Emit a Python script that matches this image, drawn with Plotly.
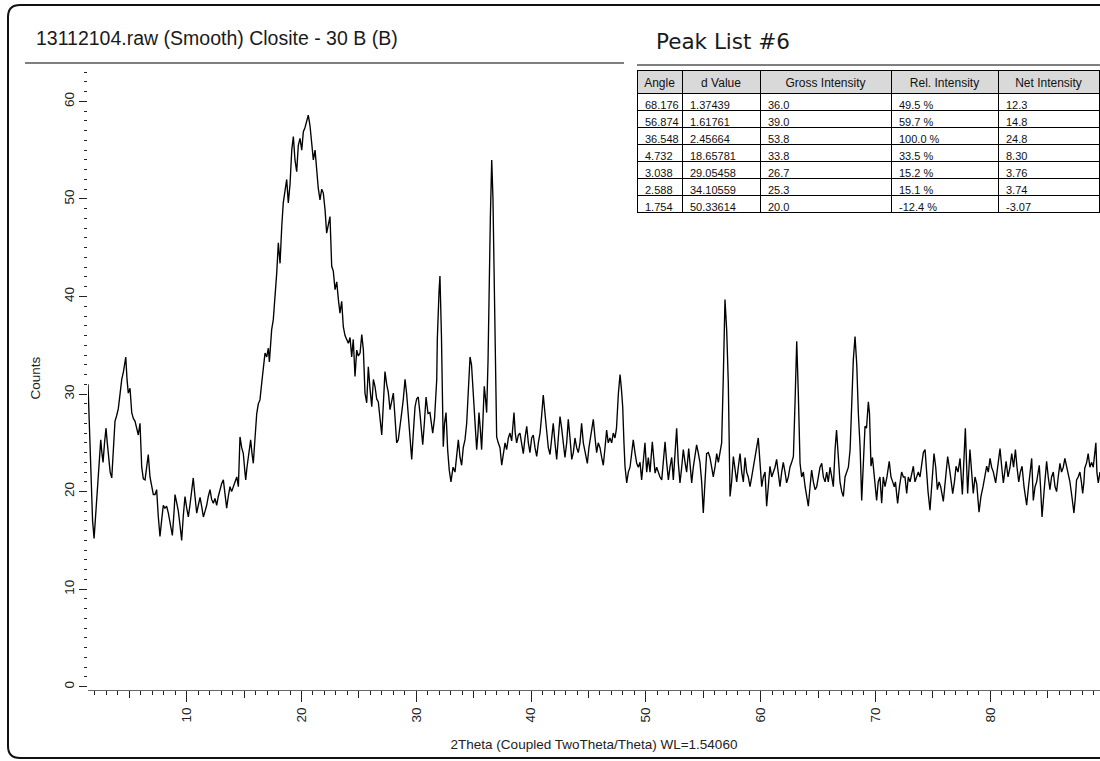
import plotly.graph_objects as go

# ---------------- data ----------------
two_theta = [
 1.40, 1.52, 1.66, 1.80, 1.93, 2.06, 2.19, 2.35, 2.51, 2.61, 2.71, 2.84, 2.97, 3.08, 3.19, 3.33,
 3.47, 3.62, 3.75, 3.90, 4.04, 4.19, 4.34, 4.49, 4.60, 4.69, 4.80, 4.91, 5.06, 5.21, 5.35, 5.50,
 5.64, 5.78, 5.93, 6.08, 6.22, 6.37, 6.51, 6.65, 6.80, 6.95, 7.09, 7.24, 7.38, 7.52, 7.67, 7.81,
 7.96, 8.10, 8.25, 8.40, 8.55, 8.75, 8.90, 8.98, 9.12, 9.27, 9.42, 9.56, 9.70, 9.85, 10.00, 10.14,
 10.28, 10.43, 10.57, 10.72, 10.87, 11.01, 11.16, 11.30, 11.45, 11.60, 11.74, 11.88, 12.03, 12.17,
 12.32, 12.46, 12.61, 12.75, 12.90, 13.04, 13.19, 13.34, 13.48, 13.62, 13.77, 13.91, 14.06, 14.21,
 14.36, 14.50, 14.64, 14.79, 14.93, 15.07, 15.14, 15.25, 15.37, 15.47, 15.57, 15.68, 15.80, 15.95,
 16.10, 16.24, 16.38, 16.53, 16.67, 16.82, 16.97, 17.11, 17.20, 17.30, 17.40, 17.54, 17.69, 17.84,
 17.98, 18.13, 18.28, 18.41, 18.56, 18.71, 18.85, 19.00, 19.15, 19.29, 19.43, 19.58, 19.72, 19.87,
 20.02, 20.16, 20.30, 20.45, 20.59, 20.74, 20.89, 21.03, 21.18, 21.32, 21.46, 21.61, 21.76, 21.90,
 22.05, 22.19, 22.33, 22.48, 22.63, 22.77, 22.92, 23.07, 23.21, 23.35, 23.50, 23.64, 23.79, 23.94,
 24.08, 24.23, 24.37, 24.51, 24.66, 24.81, 24.95, 25.10, 25.25, 25.39, 25.53, 25.68, 25.82, 25.97,
 26.12, 26.26, 26.40, 26.55, 26.69, 26.84, 26.99, 27.13, 27.27, 27.42, 27.56, 27.71, 27.86, 28.00,
 28.15, 28.29, 28.43, 28.58, 28.73, 28.87, 29.02, 29.16, 29.30, 29.45, 29.60, 29.74, 29.89, 30.03,
 30.17, 30.32, 30.47, 30.56, 30.70, 30.85, 31.02, 31.19, 31.43, 31.59, 31.78, 31.83, 31.98, 32.06,
 32.19, 32.35, 32.46, 32.59, 32.73, 32.87, 33.02, 33.20, 33.37, 33.52, 33.66, 33.81, 33.95, 34.09,
 34.24, 34.39, 34.53, 34.68, 34.81, 34.97, 35.11, 35.26, 35.37, 35.46, 35.57, 35.69, 35.81, 35.92,
 36.03, 36.13, 36.25, 36.33, 36.45, 36.57, 36.68, 36.77, 36.85, 37.00, 37.14, 37.29, 37.44, 37.58,
 37.73, 37.87, 38.02, 38.16, 38.31, 38.51, 38.62, 38.74, 38.89, 39.03, 39.18, 39.32, 39.47, 39.62,
 39.76, 39.90, 40.05, 40.19, 40.34, 40.49, 40.63, 40.78, 40.92, 41.06, 41.21, 41.36, 41.50, 41.65,
 41.79, 41.93, 42.08, 42.23, 42.37, 42.52, 42.66, 42.81, 42.95, 43.10, 43.24, 43.39, 43.54, 43.68,
 43.82, 43.97, 44.11, 44.26, 44.40, 44.55, 44.70, 44.90, 45.04, 45.22, 45.42, 45.57, 45.71, 45.85,
 46.00, 46.15, 46.29, 46.44, 46.58, 46.72, 46.87, 47.02, 47.16, 47.31, 47.44, 47.60, 47.75, 47.87,
 47.98, 48.09, 48.18, 48.33, 48.47, 48.62, 48.76, 48.90, 49.05, 49.20, 49.34, 49.49, 49.63, 49.77,
 49.92, 50.07, 50.21, 50.36, 50.56, 50.68, 50.80, 50.94, 51.08, 51.23, 51.38, 51.52, 51.67, 51.81,
 51.96, 52.10, 52.25, 52.39, 52.54, 52.68, 52.82, 52.97, 53.12, 53.26, 53.41, 53.55, 53.73, 53.84,
 53.99, 54.13, 54.28, 54.42, 54.56, 54.71, 54.86, 55.00, 55.15, 55.29, 55.44, 55.58, 55.73, 55.87,
 56.02, 56.17, 56.31, 56.45, 56.60, 56.74, 56.89, 57.04, 57.18, 57.33, 57.47, 57.62, 57.76, 57.91,
 58.05, 58.20, 58.35, 58.49, 58.64, 58.78, 58.92, 59.07, 59.22, 59.36, 59.51, 59.65, 59.79, 59.94,
 60.09, 60.23, 60.38, 60.52, 60.67, 60.81, 60.96, 61.10, 61.25, 61.39, 61.54, 61.68, 61.83, 61.97,
 62.12, 62.26, 62.41, 62.55, 62.70, 62.85, 62.99, 63.14, 63.28, 63.43, 63.57, 63.72, 63.87, 64.01,
 64.15, 64.30, 64.44, 64.59, 64.74, 64.88, 65.02, 65.17, 65.32, 65.46, 65.61, 65.75, 65.89, 66.04,
 66.19, 66.33, 66.48, 66.61, 66.74, 66.91, 67.06, 67.20, 67.35, 67.49, 67.64, 67.79, 67.93, 68.07,
 68.22, 68.37, 68.51, 68.66, 68.80, 68.95, 69.09, 69.22, 69.38, 69.48, 69.61, 69.74, 69.87, 70.10,
 70.24, 70.39, 70.54, 70.68, 70.83, 71.00, 71.20, 71.35, 71.50, 71.64, 71.74, 71.93, 72.09, 72.28,
 72.43, 72.57, 72.72, 72.86, 73.01, 73.15, 73.30, 73.44, 73.59, 73.73, 73.88, 74.03, 74.17, 74.32,
 74.45, 74.58, 74.75, 74.93, 75.10, 75.25, 75.39, 75.54, 75.68, 75.91, 76.10, 76.29, 76.49, 76.73,
 76.88, 77.02, 77.19, 77.37, 77.57, 77.72, 77.83, 77.93, 78.03, 78.23, 78.38, 78.52, 78.67, 78.82,
 79.02, 79.19, 79.37, 79.54, 79.69, 79.83, 79.98, 80.12, 80.27, 80.47, 80.66, 80.85, 81.00, 81.14,
 81.38, 81.55, 81.72, 81.87, 82.03, 82.19, 82.33, 82.48, 82.62, 82.77, 82.94, 83.17, 83.33, 83.46,
 83.61, 83.75, 83.90, 84.04, 84.27, 84.38, 84.51, 84.72, 84.91, 85.05, 85.20, 85.34, 85.49, 85.64,
 85.78, 85.92, 86.07, 86.21, 86.36, 86.50, 86.65, 86.79, 86.94, 87.11, 87.29, 87.42, 87.52, 87.66,
 87.81, 87.94, 88.05, 88.16, 88.23, 88.40, 88.53, 88.68, 88.83, 88.97, 89.07, 89.20, 89.29, 89.41,
 89.56,
]

counts = [
 31.0, 26.0, 20.5, 17.0, 15.2, 17.5, 20.0, 23.0, 25.3, 24.0, 23.0, 25.0, 26.5, 25.0, 23.5, 22.0,
 21.4, 24.0, 27.2, 27.8, 28.5, 30.0, 31.5, 32.3, 33.0, 33.8, 31.5, 30.1, 30.6, 28.1, 27.5, 27.2,
 26.5, 25.8, 27.0, 22.5, 21.3, 21.2, 22.5, 23.8, 21.5, 20.5, 19.7, 19.7, 20.2, 17.5, 15.4, 17.0,
 18.6, 18.3, 18.5, 17.8, 16.8, 15.5, 18.0, 19.7, 18.9, 18.0, 16.5, 15.0, 17.5, 19.5, 18.3, 17.4,
 18.6, 20.0, 21.4, 19.5, 17.8, 18.6, 19.4, 18.5, 17.4, 18.0, 18.6, 19.5, 20.2, 19.2,
 18.8, 19.3, 18.6, 19.5, 20.2, 20.8, 21.2, 19.8, 18.3, 19.5, 20.5, 20.0, 20.5, 21.0,
 21.5, 20.5, 25.6, 24.5, 23.9, 22.0, 21.2, 22.5, 23.6, 24.5, 25.3, 24.0, 22.9, 25.5,
 28.0, 29.0, 29.4, 31.1, 32.8, 34.2, 33.8, 34.7, 33.3, 35.0, 36.6, 37.6, 39.7, 42.4,
 45.5, 43.4, 47.2, 49.6, 50.8, 52.0, 49.6, 51.5, 55.0, 56.4, 54.0, 52.8, 55.5, 56.2,
 55.0, 56.9, 57.3, 58.1, 58.6, 57.5, 55.4, 54.0, 55.0, 53.0, 51.1, 49.9, 51.0, 50.6,
 48.9, 46.5, 47.2, 48.2, 43.1, 42.6, 40.7, 41.5, 39.7, 38.3, 39.5, 36.9, 36.0, 35.6,
 35.2, 35.8, 33.8, 35.6, 31.8, 34.5, 33.9, 34.2, 36.1, 34.5, 30.1, 29.1, 32.8, 30.5,
 28.7, 31.5, 30.8, 29.5, 29.2, 27.5, 25.8, 29.0, 32.3, 31.0, 30.2, 28.4, 29.2, 30.1,
 27.5, 25.0, 25.3, 27.0, 28.1, 29.5, 31.5, 30.0, 27.5, 25.0, 23.3, 26.0, 28.7, 29.5,
 29.7, 28.0, 26.0, 24.8, 27.0, 29.7, 28.0, 28.1, 26.0, 27.5, 31.5, 35.6, 40.5, 42.1,
 36.0, 24.6, 27.0, 28.1, 24.3, 22.2, 21.0, 22.5, 22.0, 24.0, 25.3, 23.5, 22.7, 24.5,
 25.3, 27.0, 30.5, 33.8, 33.0, 30.0, 26.7, 24.3, 26.0, 28.1, 26.5, 24.3, 27.5, 30.8,
 29.5, 28.1, 33.5, 40.7, 48.0, 54.0, 50.0, 43.0, 35.6, 25.6, 25.0, 24.5, 22.7, 24.0,
 25.0, 24.3, 25.5, 26.0, 25.2, 28.1, 26.0, 25.0, 25.8, 26.0, 24.8, 23.9, 25.5, 26.7,
 25.0, 24.0, 25.5, 25.8, 24.5, 23.6, 25.0, 26.0, 27.8, 29.9, 28.0, 26.0, 24.5, 23.8,
 25.5, 27.0, 25.0, 23.3, 25.5, 27.7, 26.5, 25.0, 23.5, 25.0, 27.4, 25.5, 23.3, 24.0,
 25.5, 24.5, 24.0, 25.0, 27.0, 25.0, 24.0, 22.9, 24.5, 26.0, 27.4, 25.5, 24.0, 25.0,
 24.5, 23.5, 22.7, 24.5, 26.3, 25.0, 25.5, 25.0, 26.0, 25.5, 26.5, 30.0, 32.0, 30.5,
 28.7, 25.0, 22.6, 20.9, 22.0, 22.5, 24.0, 25.3, 24.0, 22.9, 22.5, 23.0, 21.2, 23.0,
 25.0, 22.0, 23.5, 22.0, 25.1, 23.5, 21.9, 22.5, 22.0, 21.5, 21.2, 23.0, 25.1, 23.0,
 21.2, 22.5, 23.5, 21.2, 23.5, 26.5, 23.0, 20.9, 22.5, 24.3, 23.0, 22.0, 24.4, 23.0,
 20.9, 22.5, 23.5, 24.8, 24.0, 23.0, 21.0, 17.8, 21.0, 23.9, 24.0, 23.5, 22.5, 21.5,
 22.5, 23.9, 23.0, 24.0, 25.0, 31.5, 39.7, 36.5, 31.1, 19.5, 21.0, 23.6, 22.5, 21.0,
 22.5, 23.9, 22.0, 21.0, 23.5, 22.0, 21.5, 20.5, 21.5, 22.5, 23.5, 24.5, 25.5, 23.0,
 20.5, 21.5, 22.0, 18.5, 20.5, 22.6, 21.5, 22.0, 22.5, 23.3, 22.0, 20.5, 22.0, 23.0,
 22.0, 20.9, 21.5, 22.5, 23.0, 23.6, 29.0, 35.4, 30.0, 22.9, 21.5, 22.0, 20.5, 19.5,
 18.5, 20.5, 22.2, 21.0, 20.2, 20.5, 21.5, 22.5, 22.9, 21.5, 21.0, 22.0, 21.0, 22.5,
 21.5, 20.5, 24.3, 26.3, 24.0, 21.0, 20.0, 19.5, 21.5, 22.0, 22.5, 24.3, 29.1, 33.5,
 35.9, 33.0, 28.0, 24.6, 19.1, 22.5, 26.7, 26.5, 29.2, 28.0, 22.6, 23.5, 22.0, 19.1,
 21.0, 21.5, 18.8, 21.5, 20.5, 21.5, 23.1, 21.5, 21.0, 20.5, 21.0, 18.8, 20.5, 22.0,
 21.5, 21.5, 19.8, 21.5, 21.0, 22.0, 22.6, 21.0, 21.5, 22.0, 21.5, 23.0, 24.0, 24.3,
 22.0, 20.0, 18.1, 21.0, 23.9, 22.5, 20.2, 21.0, 20.5, 19.0, 21.5, 23.6, 22.0, 19.8,
 21.0, 22.6, 22.0, 23.4, 19.7, 23.0, 26.5, 23.0, 19.8, 24.3, 22.0, 19.8, 21.5, 20.8,
 17.9, 19.5, 20.5, 21.5, 22.6, 22.0, 23.4, 22.5, 22.0, 20.9, 22.5, 24.4, 22.5, 20.9,
 23.1, 21.5, 22.5, 23.9, 22.5, 24.3, 22.5, 21.0, 22.0, 22.6, 20.5, 18.6, 20.5, 22.0,
 23.4, 19.1, 20.5, 21.0, 22.7, 20.5, 17.4, 20.5, 23.1, 21.5, 20.2, 21.5, 22.0, 20.5,
 20.0, 21.5, 22.9, 22.0, 22.5, 23.4, 22.5, 22.0, 21.0, 19.5, 17.8, 19.5, 21.2, 21.5,
 22.0, 21.0, 19.8, 21.0, 22.4, 23.0, 23.9, 22.5, 23.0, 22.5, 23.5, 25.0, 22.0, 20.9,
 22.0,
]

# peak list table
peak_angle = ["68.176", "56.874", "36.548", "4.732", "3.038", "2.588", "1.754"]
peak_d = ["1.37439", "1.61761", "2.45664", "18.65781", "29.05458", "34.10559", "50.33614"]
peak_gross = ["36.0", "39.0", "53.8", "33.8", "26.7", "25.3", "20.0"]
peak_rel = ["49.5 %", "59.7 %", "100.0 %", "33.5 %", "15.2 %", "15.1 %", "-12.4 %"]
peak_net = ["12.3", "14.8", "24.8", "8.30", "3.76", "3.74", "-3.07"]
table_header = ["Angle", "d Value", "Gross Intensity", "Rel. Intensity", "Net Intensity"]

# ---------------- layout geometry (pixels) ----------------
W, H = 1100, 761
ML, MR, MT, MB = 88, 0, 66, 71
PW, PH = W - ML - MR, H - MT - MB


def px2x(px):
    return (px - ML) / PW


def py2y(py):
    return (H - MB - py) / PH


FONT = "Liberation Sans, Arial, sans-serif"

fig = go.Figure()

fig.add_trace(go.Scatter(
    x=two_theta, y=counts, mode="lines",
    line=dict(color="#000000", width=1.35),
    showlegend=False, hoverinfo="x+y",
))

# helper trace for the medium (every 5 degrees) tick marks
fig.add_trace(go.Scatter(x=[None], y=[None], xaxis="x2", yaxis="y",
                         showlegend=False, hoverinfo="skip"))

fig.add_trace(go.Table(
    domain=dict(x=[px2x(637), px2x(1099)], y=[py2y(240), py2y(70)]),
    columnwidth=[45, 78, 131, 107, 101],
    header=dict(values=table_header, align="center", height=23,
                fill_color="#d9d9d9", line=dict(color="#000000", width=1),
                font=dict(family=FONT, size=12, color="#111111")),
    cells=dict(values=[peak_angle, peak_d, peak_gross, peak_rel, peak_net],
               align="left", height=17, fill_color="#ffffff",
               line=dict(color="#000000", width=1),
               font=dict(family=FONT, size=11, color="#111111")),
))

xmin, xmax = 1.40, 89.56
y_per_px = 1 / 9.755
ymin = -(H - MB - 686.7) * y_per_px
ymax = (686.7 - MT) * y_per_px

fig.update_layout(
    width=W, height=H,
    margin=dict(l=ML, r=MR, t=MT, b=MB, pad=0),
    paper_bgcolor="white", plot_bgcolor="white",
    font=dict(family=FONT, size=13, color="#222222"),
    xaxis=dict(
        range=[xmin, xmax], showgrid=False, zeroline=False,
        showline=True, linecolor="#666666", linewidth=1,
        tickmode="linear", tick0=0, dtick=10,
        ticks="outside", ticklen=11, tickwidth=1, tickcolor="#222222",
        tickangle=-90, tickfont=dict(size=13.5, color="#222222"),
        minor=dict(dtick=1, tick0=0, ticks="outside", ticklen=4, tickwidth=1,
                   tickcolor="#222222", showgrid=False),
        title=dict(text="2Theta (Coupled TwoTheta/Theta) WL=1.54060",
                   font=dict(size=13.5, color="#222222"), standoff=18),
    ),
    xaxis2=dict(
        overlaying="x", matches="x", anchor="y", side="bottom",
        range=[xmin, xmax], showgrid=False, zeroline=False, showline=False,
        tickmode="linear", tick0=5, dtick=10, ticks="outside", ticklen=7,
        tickwidth=1, tickcolor="#222222", showticklabels=False,
    ),
    yaxis=dict(
        range=[ymin, ymax], showgrid=False, zeroline=False, showline=False,
        tickmode="linear", tick0=0, dtick=10,
        ticks="outside", ticklen=8, tickwidth=1, tickcolor="#222222",
        tickangle=-90, tickfont=dict(size=13.5, color="#222222"),
        minor=dict(dtick=1, tick0=0, ticks="outside", ticklen=3, tickwidth=1,
                   tickcolor="#222222", showgrid=False),
        title=dict(text="Counts", font=dict(size=13.5, color="#222222"), standoff=17),
    ),
)

# frame with rounded corners
r = 12
L, T, B, R = 8, 5, 758, 1120
path = (f"M {px2x(L)},{py2y(T + r)} L {px2x(L)},{py2y(B - r)} "
        f"Q {px2x(L)},{py2y(B)} {px2x(L + r)},{py2y(B)} L {px2x(R)},{py2y(B)} "
        f"L {px2x(R)},{py2y(T)} L {px2x(L + r)},{py2y(T)} "
        f"Q {px2x(L)},{py2y(T)} {px2x(L)},{py2y(T + r)} Z")
fig.add_shape(type="path", path=path, xref="paper", yref="paper",
              line=dict(color="#111111", width=2), fillcolor="rgba(0,0,0,0)", layer="above")

# header rules
fig.add_shape(type="line", xref="paper", yref="paper",
              x0=px2x(25), x1=px2x(624), y0=py2y(63), y1=py2y(63),
              line=dict(color="#555555", width=1.5))
fig.add_shape(type="line", xref="paper", yref="paper",
              x0=px2x(637), x1=px2x(1100), y0=py2y(65), y1=py2y(65),
              line=dict(color="#555555", width=1.5))

fig.add_annotation(text="13112104.raw (Smooth) Closite - 30 B (B)",
                   xref="paper", yref="paper", x=px2x(34), y=py2y(38),
                   xanchor="left", yanchor="middle", showarrow=False,
                   font=dict(family=FONT, size=19.5, color="#1a1a1a"))
fig.add_annotation(text="Peak List #6",
                   xref="paper", yref="paper", x=px2x(654), y=py2y(42),
                   xanchor="left", yanchor="middle", showarrow=False,
                   font=dict(family="DejaVu Sans, sans-serif", size=21.5, color="#1a1a1a"))

fig.write_html("out.html")
